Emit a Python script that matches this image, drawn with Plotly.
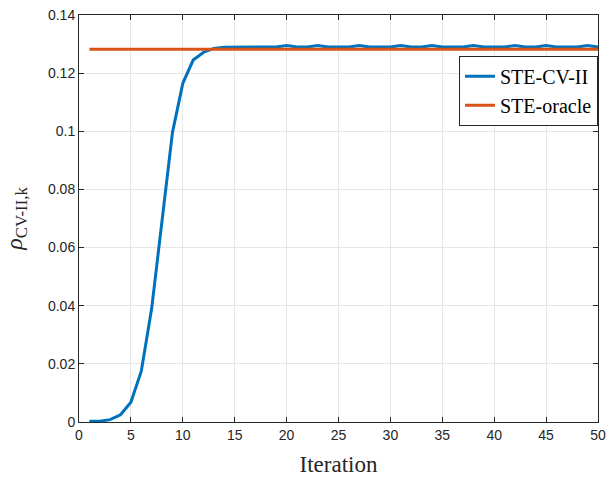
import plotly.graph_objects as go

iterations = list(range(1, 51))
ste_cv_ii = [0.0003, 0.0003, 0.0008, 0.0025, 0.0068, 0.0175, 0.039, 0.070, 0.0995, 0.1165,
             0.1245, 0.1272, 0.1285, 0.1289, 0.1290, 0.1290, 0.1290, 0.1290, 0.1290, 0.1295,
             0.1290, 0.1290, 0.1295, 0.1290, 0.1290, 0.1290, 0.1295, 0.1290, 0.1290, 0.1290,
             0.1295, 0.1290, 0.1290, 0.1295, 0.1290, 0.1290, 0.1290, 0.1295, 0.1290, 0.1290,
             0.1290, 0.1295, 0.1290, 0.1290, 0.1295, 0.1290, 0.1290, 0.1290, 0.1295, 0.1290]
ste_oracle = [0.1282] * 50

x_ticks = [0, 5, 10, 15, 20, 25, 30, 35, 40, 45, 50]
y_ticks = [0, 0.02, 0.04, 0.06, 0.08, 0.1, 0.12, 0.14]
y_tick_labels = ["0", "0.02", "0.04", "0.06", "0.08", "0.1", "0.12", "0.14"]

fig = go.Figure()
fig.add_trace(go.Scatter(x=iterations, y=ste_cv_ii, mode="lines", name="STE-CV-II",
                         line=dict(color="#0072BD", width=3)))
fig.add_trace(go.Scatter(x=iterations, y=ste_oracle, mode="lines", name="STE-oracle",
                         line=dict(color="#D95319", width=3)))

axis_common = dict(showline=True, linecolor="#262626", linewidth=1, mirror="allticks",
                   ticks="inside", ticklen=5, tickcolor="#262626", automargin=False,
                   showgrid=True, gridcolor="#E6E6E6", gridwidth=1, zeroline=False,
                   tickfont=dict(family="Liberation Sans, Arial", size=14, color="#262626"))

fig.update_layout(
    width=608, height=479,
    margin=dict(l=79, r=10, t=15, b=57),
    plot_bgcolor="white", paper_bgcolor="white",
    xaxis=dict(range=[0, 50], tickvals=x_ticks,
               title=dict(text="Iteration", font=dict(family="Liberation Serif, Times New Roman", size=23, color="#262626"), standoff=14),
               **axis_common),
    yaxis=dict(range=[0, 0.14], tickvals=y_ticks, ticktext=y_tick_labels,
               title=dict(text="<i>ρ</i><sub>CV-II,k</sub>", font=dict(family="Liberation Serif, Times New Roman", size=24, color="#262626"), standoff=18),
               **axis_common),
    legend=dict(x=1.0, y=0.9, xanchor="right", yanchor="top",
                bgcolor="white", bordercolor="#262626", borderwidth=1,
                font=dict(family="Liberation Serif, Times New Roman", size=20, color="black"),
                tracegroupgap=0),
    showlegend=True,
)

fig.write_html("out.html")
